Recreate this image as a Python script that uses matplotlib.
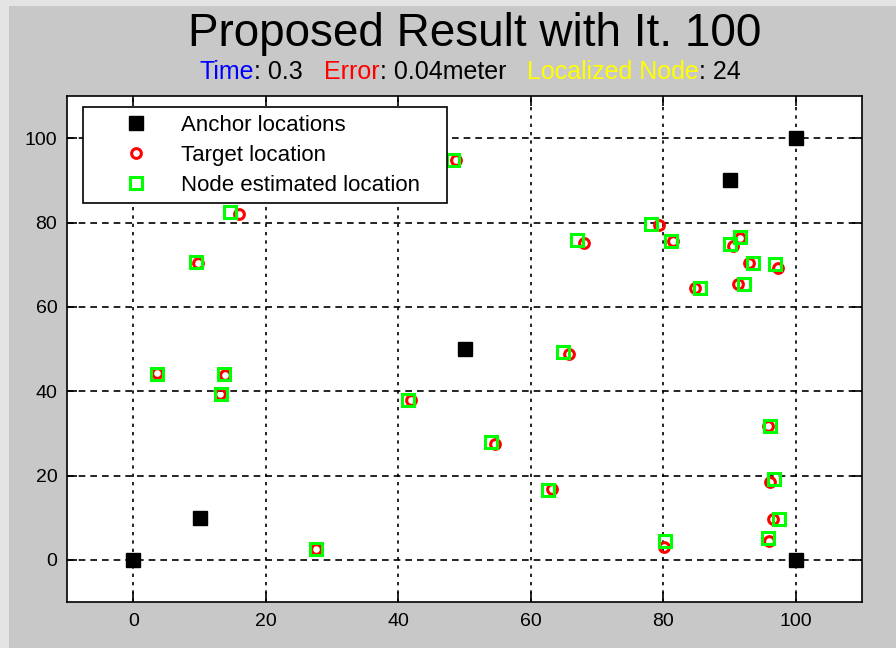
import matplotlib
matplotlib.use("Agg")
import matplotlib.pyplot as plt
from matplotlib.patches import Rectangle

plt.rcParams["font.family"] = ["Liberation Sans", "DejaVu Sans"]

# anchor nodes
anchor_x = [0, 10, 50, 90, 100, 100]
anchor_y = [0, 10, 50, 90, 100, 0]

# true target positions
target_x = [3.6, 13.9, 13.1, 9.8, 16.0, 48.7, 27.6, 41.9, 54.6, 63.2, 65.8, 68.0, 79.3,
            81.4, 84.8, 90.6, 91.6, 91.3, 92.9, 97.3, 95.8, 96.1, 96.5, 95.9, 80.1]
target_y = [44.3, 43.8, 39.3, 70.4, 82.0, 94.8, 2.6, 37.9, 27.5, 16.8, 48.8, 75.1, 79.4,
            75.6, 64.5, 74.4, 76.3, 65.4, 70.4, 69.2, 31.8, 18.5, 9.7, 4.5, 3.1]

# estimated positions
est_x = [3.6, 13.7, 13.3, 9.4, 14.6, 48.3, 27.6, 41.5, 54.0, 62.6, 64.9, 67.0, 78.1,
         81.1, 85.5, 90.0, 91.6, 92.2, 93.5, 96.8, 96.1, 96.7, 97.4, 95.8, 80.2]
est_y = [44.1, 44.1, 39.3, 70.6, 82.5, 94.8, 2.6, 37.9, 28.0, 16.6, 49.3, 75.8, 79.6,
         75.6, 64.5, 74.9, 76.5, 65.4, 70.4, 70.1, 31.8, 19.2, 9.7, 5.2, 4.5]

x_ticks = [0, 20, 40, 60, 80, 100]
y_ticks = [0, 20, 40, 60, 80, 100]

W, H = 896, 648
fig = plt.figure(figsize=(W / 100, H / 100), dpi=100, facecolor="#e4e4e4")
fig.add_artist(Rectangle((9 / W, 0), 1, 1 - 6 / H, transform=fig.transFigure,
                         facecolor="#c8c8c8", edgecolor="none", zorder=-5))

ax = fig.add_axes([67 / W, 1 - 602 / H, 795 / W, 506 / H])

for xt in x_ticks:
    ax.axvline(xt, color="black", lw=1.2, ls=(0, (2, 3)), zorder=0)
for yt in y_ticks:
    ax.axhline(yt, color="black", lw=1.2, ls=(0, (4, 3)), zorder=0)

ax.plot(anchor_x, anchor_y, "s", color="black", ms=10.5, label="Anchor locations")
ax.plot(target_x, target_y, "o", mfc="none", mec="red", mew=2.2, ms=7,
        label="Target location")
ax.plot(est_x, est_y, "s", mfc="none", mec="#00ff00", mew=2.2, ms=9,
        label="Node estimated location")

ax.set_xlim(-10, 110)
ax.set_ylim(-10, 110)
ax.set_xticks(x_ticks)
ax.set_yticks(y_ticks)
ax.tick_params(direction="in", top=True, right=True, length=7, width=1.2,
               labelsize=14)
ax.tick_params(axis="x", pad=8)
ax.tick_params(axis="y", pad=7)
for s in ax.spines.values():
    s.set_linewidth(1.2)

leg = ax.legend(loc="upper left", bbox_to_anchor=(16 / 795, 0.5, 364 / 795, 0.478),
                mode="expand", borderaxespad=0, fancybox=False, edgecolor="black",
                framealpha=1, fontsize=16, handlelength=4.05, handletextpad=0.0,
                labelspacing=0.41, borderpad=0.34)
leg.get_frame().set_linewidth(1.2)

fig.text(0.530, 1 - 46 / H, "Proposed Result with It. 100", ha="center",
         va="baseline", fontsize=33)

# multi-coloured subtitle, laid out piece by piece
parts = [("Time", "blue"), (": 0.3   ", "black"), ("Error", "red"),
         (": 0.04meter   ", "black"), ("Localized Node", "yellow"), (": 24", "black")]
renderer = fig.canvas.get_renderer()
texts = [fig.text(0, 1 - 79 / H, t, color=c, fontsize=18, va="baseline")
         for t, c in parts]
widths = [t.get_window_extent(renderer).width for t in texts]
x = 0.525 * W - sum(widths) / 2
for t, w in zip(texts, widths):
    t.set_x(x / W)
    x += w

fig.savefig("out.png", dpi=100, facecolor=fig.get_facecolor())
